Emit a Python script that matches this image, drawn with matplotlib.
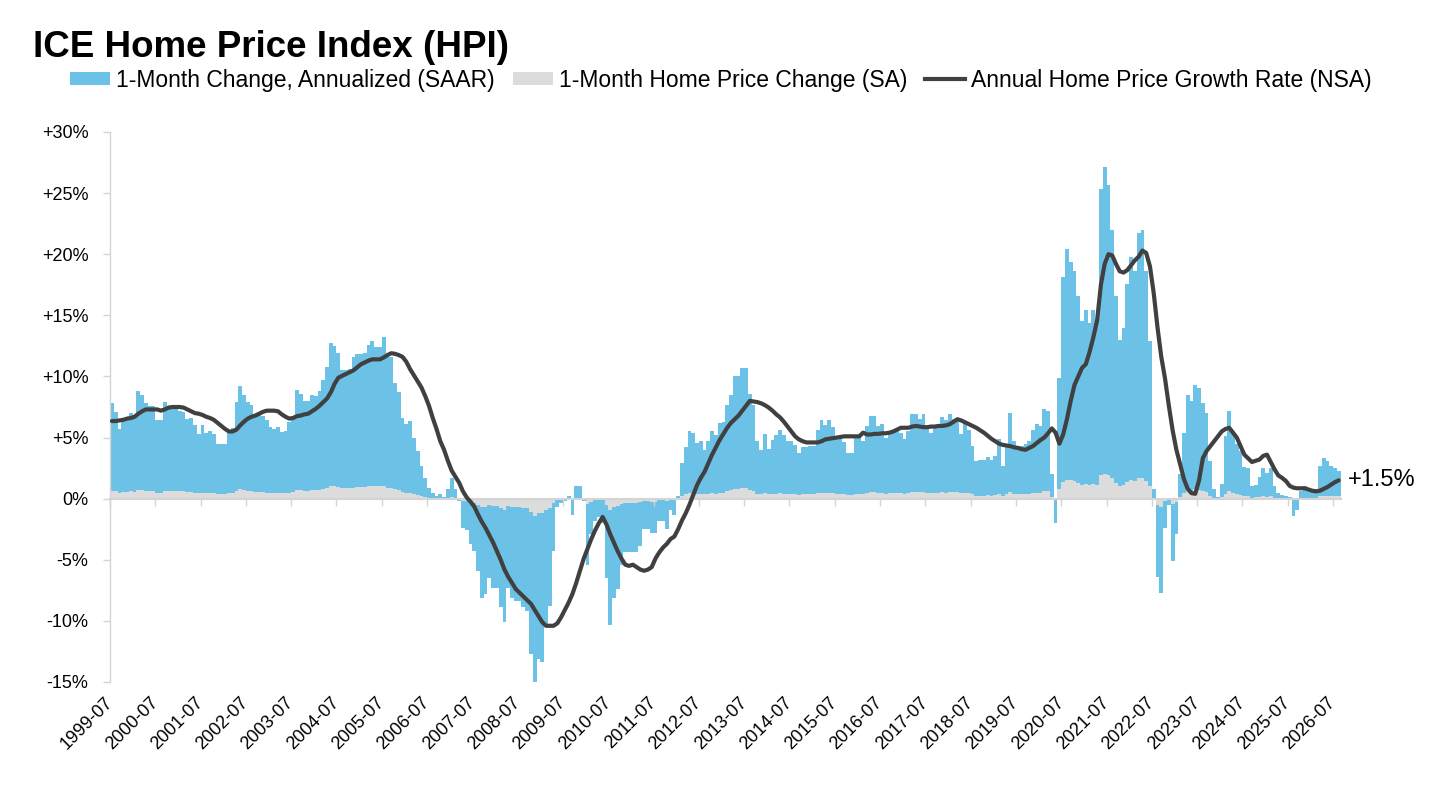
import matplotlib
matplotlib.use('Agg')
import matplotlib.pyplot as plt
import numpy as np
from matplotlib.patches import Patch
from matplotlib.lines import Line2D

plt.rcParams['font.family'] = ['Liberation Sans', 'DejaVu Sans']

# --- data, monthly from 1999-07 (rows = Jul..Jun) ---
saar = [
    7.8, 7.1, 5.7, 6.6, 6.7, 7.0, 6.8, 8.8, 8.5, 7.8, 7.6, 7.6,
    6.4, 6.4, 7.9, 7.4, 7.4, 7.3, 7.2, 7.1, 6.5, 6.6, 6.0, 5.3,
    6.0, 5.4, 5.5, 5.3, 4.5, 4.5, 4.5, 5.5, 5.8, 7.9, 9.2, 8.5,
    7.9, 7.7, 6.9, 6.9, 6.8, 6.4, 5.9, 5.7, 5.9, 5.45, 5.5, 6.3,
    6.8, 8.9, 8.6, 8.0, 8.0, 8.5, 8.4, 8.8, 9.7, 10.8, 12.7, 12.5,
    11.9, 10.5, 10.5, 10.6, 11.6, 11.8, 11.8, 11.9, 12.6, 12.9, 12.4, 12.4,
    13.2, 11.65, 11.6, 9.5, 8.7, 6.6, 6.1, 6.35, 5.0, 3.9, 2.7, 1.7,
    0.9, 0.5, 0.2, 0.35, 0.1, 0.75, 1.7, 0.75, -0.2, -2.4, -2.6, -3.7,
    -4.3, -5.9, -8.1, -7.8, -6.5, -7.3, -7.3, -8.9, -10.1, -7.3, -8.1, -8.4,
    -8.4, -8.9, -9.2, -12.7, -15.6, -13.1, -13.4, -10.4, -8.8, -4.3, -0.7, -0.33,
    -0.2, 0.2, -1.3, 1.0, 1.0, -0.2, -5.4, -2.9, -1.8, -1.5, -2.0, -6.5,
    -10.3, -8.1, -7.4, -5.4, -4.4, -4.4, -4.4, -4.4, -3.9, -2.5, -2.5, -2.8,
    -2.8, -1.85, -1.85, -2.5, -0.9, -1.3, 0.2, 2.9, 4.2, 5.5, 5.4, 4.55,
    4.7, 4.0, 4.7, 5.5, 5.2, 6.2, 6.3, 7.7, 8.5, 10.0, 10.0, 10.7,
    10.7, 8.6, 7.7, 4.7, 4.0, 5.3, 4.1, 4.8, 5.2, 5.6, 5.2, 4.75,
    4.75, 4.4, 3.7, 4.2, 4.2, 4.3, 4.3, 5.6, 6.4, 6.05, 6.4, 5.9,
    5.1, 5.1, 4.6, 3.75, 3.75, 5.1, 5.1, 4.7, 5.95, 6.75, 6.75, 5.95,
    6.1, 5.0, 5.4, 5.4, 5.5, 5.4, 4.85, 5.5, 6.95, 6.95, 6.5, 6.95,
    5.8, 5.4, 5.8, 5.8, 6.7, 6.4, 6.95, 6.5, 6.5, 5.3, 6.2, 5.65,
    4.3, 3.1, 3.2, 3.2, 3.4, 3.2, 3.5, 4.85, 2.7, 4.45, 7.0, 4.7,
    4.3, 4.3, 4.45, 4.7, 5.65, 6.1, 5.95, 7.3, 7.15, 2.0, -1.95, 9.9,
    18.1, 20.4, 19.4, 18.6, 16.6, 14.5, 15.4, 14.4, 15.4, 14.5, 25.3, 27.1,
    25.7, 22.0, 16.6, 13.0, 14.0, 17.6, 19.8, 18.6, 21.7, 22.0, 18.6, 12.9,
    0.75, -6.4, -7.7, -2.4, -0.5, -5.1, -2.9, 2.0, 5.4, 8.5, 8.0, 9.3,
    9.05, 7.8, 7.0, 3.05, 0.75, 0.1, 1.2, 5.1, 7.2, 5.3, 4.5, 3.9,
    2.6, 2.5, 1.0, 1.15, 1.8, 2.5, 2.1, 2.5, 1.0, 0.45, 0.33, 0.2,
    0.1, -1.45, -0.9, 0.6, 1.0, 0.75, 0.6, 0.75, 2.65, 3.3, 3.05, 2.7,
    2.5, 2.3,
]

sa = [
    0.65, 0.6, 0.45, 0.55, 0.55, 0.6, 0.55, 0.7, 0.7, 0.65, 0.6, 0.6,
    0.5, 0.5, 0.65, 0.6, 0.6, 0.6, 0.6, 0.6, 0.55, 0.55, 0.5, 0.45,
    0.5, 0.45, 0.45, 0.45, 0.35, 0.35, 0.35, 0.45, 0.5, 0.65, 0.75, 0.7,
    0.65, 0.65, 0.55, 0.55, 0.55, 0.5, 0.5, 0.45, 0.5, 0.45, 0.45, 0.5,
    0.55, 0.7, 0.7, 0.65, 0.65, 0.7, 0.7, 0.7, 0.8, 0.85, 1.0, 1.0,
    0.95, 0.85, 0.85, 0.85, 0.9, 0.95, 0.95, 0.95, 1.0, 1.0, 1.0, 1.0,
    1.05, 0.9, 0.9, 0.75, 0.7, 0.55, 0.5, 0.5, 0.4, 0.3, 0.2, 0.15,
    0.05, 0.05, 0.02, 0.03, 0.01, 0.06, 0.15, 0.06, -0.02, -0.2, -0.2, -0.3,
    -0.35, -0.5, -0.7, -0.65, -0.55, -0.6, -0.6, -0.75, -0.9, -0.6, -0.7, -0.7,
    -0.7, -0.75, -0.8, -1.1, -1.4, -1.15, -1.15, -0.9, -0.75, -0.35, -0.06, -0.03,
    -0.02, 0.02, -0.1, 0.08, 0.08, -0.02, -0.45, -0.25, -0.15, -0.12, -0.15, -0.55,
    -0.9, -0.7, -0.6, -0.45, -0.35, -0.35, -0.35, -0.35, -0.3, -0.2, -0.2, -0.25,
    -0.25, -0.15, -0.15, -0.2, -0.08, -0.1, 0.02, 0.25, 0.35, 0.45, 0.45, 0.35,
    0.4, 0.35, 0.4, 0.45, 0.4, 0.5, 0.5, 0.65, 0.7, 0.8, 0.8, 0.85,
    0.85, 0.7, 0.65, 0.4, 0.35, 0.45, 0.35, 0.4, 0.4, 0.45, 0.4, 0.4,
    0.4, 0.35, 0.3, 0.35, 0.35, 0.35, 0.35, 0.45, 0.5, 0.5, 0.5, 0.5,
    0.4, 0.4, 0.4, 0.3, 0.3, 0.4, 0.4, 0.4, 0.5, 0.55, 0.55, 0.5,
    0.5, 0.4, 0.45, 0.45, 0.45, 0.45, 0.4, 0.45, 0.55, 0.55, 0.55, 0.55,
    0.45, 0.45, 0.45, 0.45, 0.55, 0.5, 0.55, 0.55, 0.55, 0.45, 0.5, 0.45,
    0.35, 0.25, 0.25, 0.25, 0.3, 0.25, 0.3, 0.4, 0.2, 0.35, 0.55, 0.4,
    0.35, 0.35, 0.35, 0.4, 0.45, 0.5, 0.5, 0.6, 0.6, 0.15, -0.15, 0.8,
    1.4, 1.55, 1.5, 1.45, 1.3, 1.15, 1.2, 1.1, 1.2, 1.15, 1.9, 2.0,
    1.9, 1.65, 1.3, 1.0, 1.1, 1.35, 1.5, 1.45, 1.65, 1.65, 1.45, 1.0,
    0.06, -0.55, -0.65, -0.2, -0.04, -0.45, -0.25, 0.15, 0.45, 0.7, 0.65, 0.75,
    0.7, 0.65, 0.55, 0.25, 0.06, 0.01, 0.1, 0.4, 0.6, 0.45, 0.35, 0.3,
    0.2, 0.2, 0.08, 0.1, 0.15, 0.2, 0.15, 0.2, 0.08, 0.04, 0.03, 0.02,
    0.01, -0.12, -0.08, 0.05, 0.08, 0.06, 0.05, 0.06, 0.2, 0.25, 0.25, 0.2,
    0.2, 0.2,
]

nsa_annual = [
    6.35, 6.35, 6.4, 6.45, 6.55, 6.6, 6.7, 6.95, 7.15, 7.3, 7.3, 7.3,
    7.3, 7.2, 7.3, 7.45, 7.5, 7.5, 7.5, 7.45, 7.3, 7.15, 7.0, 6.95,
    6.85, 6.7, 6.6, 6.45, 6.2, 5.95, 5.7, 5.5, 5.5, 5.65, 6.0, 6.3,
    6.55, 6.7, 6.8, 6.95, 7.1, 7.2, 7.2, 7.2, 7.15, 6.9, 6.7, 6.55,
    6.6, 6.75, 6.8, 6.9, 6.95, 7.15, 7.35, 7.6, 7.9, 8.2, 8.7, 9.4,
    9.9, 10.05, 10.2, 10.35, 10.5, 10.75, 11.0, 11.15, 11.3, 11.4, 11.4, 11.4,
    11.55, 11.75, 11.9, 11.85, 11.75, 11.6, 11.2, 10.6, 10.1, 9.6, 9.1, 8.4,
    7.6, 6.6, 5.7, 4.7, 4.0, 3.1, 2.3, 1.8, 1.3, 0.6, 0.1, -0.25,
    -0.65, -1.3, -1.9, -2.4, -3.0, -3.6, -4.3, -5.0, -5.8, -6.4, -6.9, -7.4,
    -7.7, -8.0, -8.3, -8.6, -9.1, -9.6, -10.1, -10.4, -10.4, -10.4, -10.2, -9.7,
    -9.1, -8.5, -7.8, -6.9, -5.9, -4.9, -4.1, -3.3, -2.6, -2.0, -1.5, -2.1,
    -2.9, -3.6, -4.3, -4.9, -5.4, -5.5, -5.4, -5.6, -5.8, -5.9, -5.8, -5.6,
    -4.9, -4.4, -4.0, -3.7, -3.3, -3.1, -2.5, -1.8, -1.2, -0.5, 0.3, 1.1,
    1.7, 2.2, 2.9, 3.6, 4.2, 4.8, 5.3, 5.8, 6.2, 6.5, 6.8, 7.2,
    7.6, 8.0, 7.95, 7.9, 7.8, 7.65, 7.45, 7.2, 6.9, 6.65, 6.3, 5.9,
    5.5, 5.1, 4.85, 4.7, 4.6, 4.6, 4.6, 4.6, 4.7, 4.85, 4.9, 4.95,
    5.0, 5.05, 5.1, 5.1, 5.1, 5.1, 5.1, 5.4, 5.25, 5.25, 5.3, 5.3,
    5.35, 5.35, 5.4, 5.5, 5.65, 5.8, 5.8, 5.8, 5.9, 5.95, 5.9, 5.85,
    5.85, 5.9, 5.9, 5.95, 5.95, 6.0, 6.1, 6.3, 6.5, 6.4, 6.25, 6.1,
    5.95, 5.8, 5.6, 5.4, 5.15, 4.9, 4.7, 4.5, 4.4, 4.35, 4.3, 4.2,
    4.15, 4.05, 4.0, 4.15, 4.3, 4.55, 4.8, 5.0, 5.35, 5.75, 5.4, 4.5,
    5.25, 6.5, 8.0, 9.3, 10.0, 10.7, 11.0, 12.0, 13.2, 14.6, 17.5, 19.2,
    20.0, 19.9, 19.2, 18.6, 18.5, 18.7, 19.1, 19.5, 19.8, 20.3, 20.1, 19.0,
    16.8, 14.0, 11.6, 9.8, 7.6, 5.6, 4.0, 2.8, 1.6, 0.8, 0.45, 0.4,
    1.5, 3.3, 3.9, 4.3, 4.7, 5.1, 5.5, 5.7, 5.8, 5.4, 5.0, 4.3,
    3.6, 3.3, 3.0, 3.1, 3.2, 3.5, 3.6, 3.0, 2.4, 1.9, 1.7, 1.45,
    1.05, 0.9, 0.85, 0.85, 0.85, 0.75, 0.65, 0.6, 0.65, 0.8, 0.95, 1.15,
    1.35, 1.5,
]

tick_labels = ['1999-07', '2000-07', '2001-07', '2002-07', '2003-07', '2004-07',
               '2005-07', '2006-07', '2007-07', '2008-07', '2009-07', '2010-07',
               '2011-07', '2012-07', '2013-07', '2014-07', '2015-07', '2016-07',
               '2017-07', '2018-07', '2019-07', '2020-07', '2021-07', '2022-07',
               '2023-07', '2024-07', '2025-07', '2026-07']
ytick_vals = [30, 25, 20, 15, 10, 5, 0, -5, -10, -15]
ytick_labels = ['+30%', '+25%', '+20%', '+15%', '+10%', '+5%', '0%', '-5%', '-10%', '-15%']

BLUE = '#6cc1e6'
GRAY = '#dcdcdc'
DARK = '#404040'
AXIS = '#d4d4d4'

# --- figure ---
fig = plt.figure(figsize=(14.56, 8.06), dpi=100)
ax = fig.add_axes([110 / 1456, 1 - 682 / 806, 1230.6 / 1456, 550 / 806])

n = len(saar)
x = np.arange(n)
ax.bar(x, saar, width=1.0, align='edge', color=BLUE, linewidth=0, zorder=1)
ax.bar(x, sa, width=1.0, align='edge', color=GRAY, linewidth=0, zorder=2)
ax.plot(x + 0.5, nsa_annual, color=DARK, lw=3, solid_capstyle='round',
        solid_joinstyle='round', zorder=4)

ax.set_xlim(0, n)
ax.set_ylim(-15, 30)

# y axis
ax.set_yticks(ytick_vals, ytick_labels)
ax.tick_params(axis='y', direction='out', length=5, width=1, color=AXIS,
               labelsize=13, pad=10.5)
ax.spines['left'].set_color(AXIS)
ax.spines['left'].set_linewidth(1)
for s in ['top', 'right']:
    ax.spines[s].set_visible(False)

# zero axis with tick marks, labels at the bottom
tick_pos = np.arange(0, n, 12)
ax.spines['bottom'].set_position(('data', 0))
ax.spines['bottom'].set_color(AXIS)
ax.spines['bottom'].set_linewidth(1.5)
ax.set_xticks(tick_pos)
ax.tick_params(axis='x', direction='out', length=5, width=1, color=AXIS,
               labelbottom=False)

sec = ax.secondary_xaxis('bottom')
sec.set_xticks(tick_pos, tick_labels)
sec.tick_params(length=0, pad=13, labelsize=13)
sec.spines['bottom'].set_visible(False)
for lbl in sec.get_xticklabels():
    lbl.set_rotation(45)
    lbl.set_ha('right')
    lbl.set_va('center')
    lbl.set_rotation_mode('anchor')

# end label
ax.annotate(f"+{nsa_annual[-1]:.1f}%", xy=(n, nsa_annual[-1]), xytext=(5, 0),
            textcoords='offset points', ha='left', va='center', fontsize=17,
            annotation_clip=False)

# title & legend
fig.text(33 / 1456, 1 - 57 / 806, 'ICE Home Price Index (HPI)', fontsize=26.5,
         fontweight='bold', va='baseline', ha='left')

handles = [Patch(facecolor=BLUE, edgecolor='none'),
           Patch(facecolor=GRAY, edgecolor='none'),
           Line2D([0], [0], color=DARK, lw=3)]
names = ['1-Month Change, Annualized (SAAR)', '1-Month Home Price Change (SA)',
         'Annual Home Price Growth Rate (NSA)']
fig.legend(handles, names, loc='center left', bbox_to_anchor=(70 / 1456, 1 - 80 / 806),
           ncol=3, frameon=False, fontsize=16.5, handlelength=1.75, handleheight=0.5,
           handletextpad=0.25, columnspacing=0.8, borderpad=0, borderaxespad=0)

fig.savefig('out.png', dpi=100)
